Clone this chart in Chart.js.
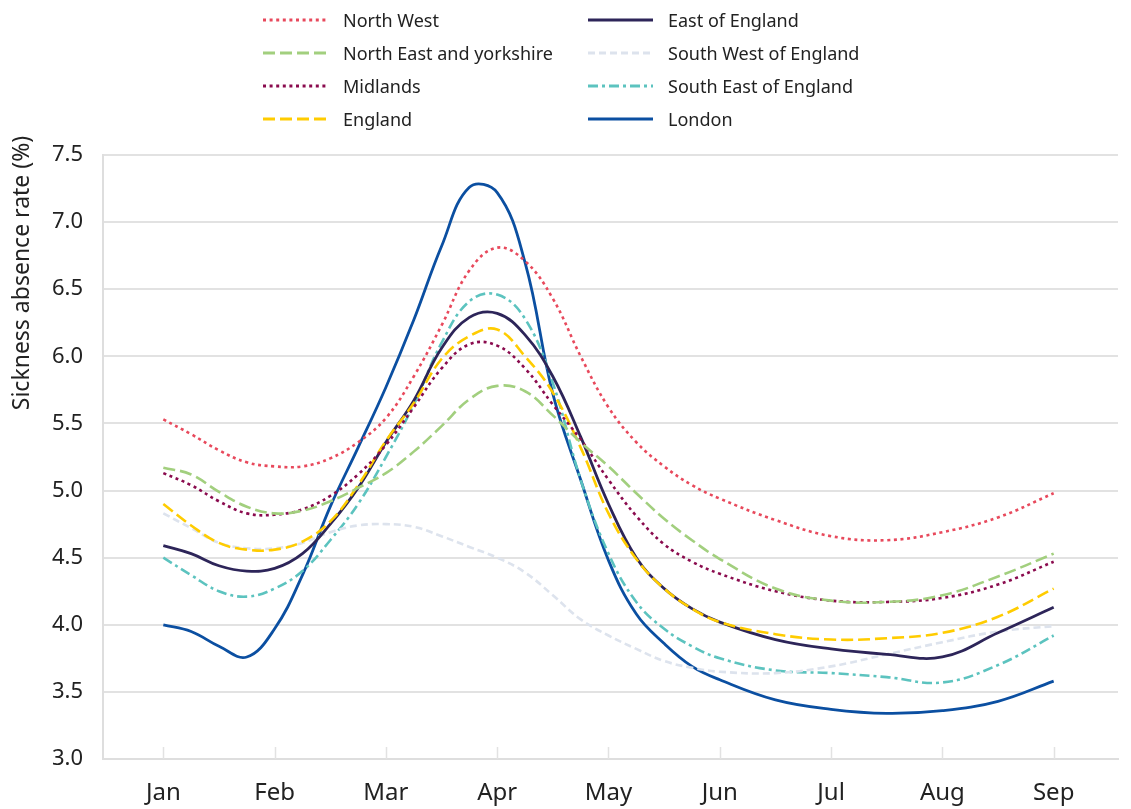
<!DOCTYPE html>
<html>
<head>
<meta charset="utf-8">
<title>Sickness absence rate by region</title>
<script src="https://cdn.jsdelivr.net/npm/chart.js@4.4.1/dist/chart.umd.min.js"></script>
<style>
  html, body { margin: 0; padding: 0; background: #fff; }
  body { width: 1131px; height: 809px; overflow: hidden; font-family: "Noto Sans", sans-serif; }
  #wrap { position: relative; width: 1131px; height: 809px; }
  #legend { position: absolute; left: 0; top: 0; width: 1131px; height: 140px; }
  .item { position: absolute; height: 30px; line-height: 30px; display: flex; align-items: center;
          font-size: 18px; color: #222; white-space: nowrap; }
  .item svg { margin-right: 15px; }
</style>
</head>
<body>
<div id="wrap">
  <canvas id="absenceChart" width="1131" height="809"></canvas>
  <div id="legend"></div>
</div>
<script>
const months = ['Jan', 'Feb', 'Mar', 'Apr', 'May', 'Jun', 'Jul', 'Aug', 'Sep'];
const yTicks = [3.0, 3.5, 4.0, 4.5, 5.0, 5.5, 6.0, 6.5, 7.0, 7.5];
const yTitle = 'Sickness absence rate (%)';

// sample positions, in months counted from the start of January
const samplePos = [0, 0.25, 0.5, 0.75, 1, 1.25, 1.5, 1.75, 2, 2.25, 2.5, 2.75, 3, 3.25, 3.5, 3.75, 4, 4.25, 4.5, 4.75, 5, 5.5, 6, 6.5, 7, 7.5, 8];

// sickness absence rate (%)
const northWest   = [5.53, 5.42, 5.30, 5.21, 5.18, 5.18, 5.24, 5.36, 5.54, 5.85, 6.23, 6.64, 6.81, 6.71, 6.43, 6.00, 5.62, 5.36, 5.18, 5.04, 4.94, 4.78, 4.66, 4.63, 4.69, 4.80, 4.98];
const northEast   = [5.17, 5.12, 4.99, 4.88, 4.83, 4.85, 4.92, 5.02, 5.13, 5.29, 5.48, 5.68, 5.78, 5.74, 5.56, 5.36, 5.18, 4.98, 4.79, 4.63, 4.49, 4.27, 4.18, 4.17, 4.22, 4.36, 4.53];
const midlands    = [5.13, 5.04, 4.92, 4.83, 4.82, 4.86, 4.96, 5.12, 5.34, 5.62, 5.91, 6.09, 6.08, 5.91, 5.64, 5.38, 5.08, 4.81, 4.60, 4.47, 4.38, 4.25, 4.18, 4.17, 4.20, 4.30, 4.47];
const england     = [4.90, 4.74, 4.61, 4.56, 4.56, 4.62, 4.77, 5.04, 5.37, 5.65, 5.98, 6.15, 6.20, 6.00, 5.73, 5.32, 4.83, 4.49, 4.27, 4.12, 4.02, 3.93, 3.89, 3.90, 3.94, 4.06, 4.27];
const eastEngland = [4.59, 4.53, 4.44, 4.40, 4.42, 4.53, 4.75, 5.02, 5.36, 5.67, 6.06, 6.29, 6.32, 6.16, 5.85, 5.40, 4.90, 4.50, 4.27, 4.12, 4.02, 3.89, 3.82, 3.78, 3.76, 3.94, 4.13];
const southWest   = [4.83, 4.72, 4.61, 4.57, 4.57, 4.61, 4.69, 4.74, 4.75, 4.73, 4.66, 4.58, 4.50, 4.39, 4.22, 4.04, 3.92, 3.82, 3.73, 3.68, 3.65, 3.64, 3.69, 3.78, 3.87, 3.95, 3.99];
const southEast   = [4.50, 4.37, 4.25, 4.21, 4.27, 4.40, 4.63, 4.90, 5.25, 5.64, 6.10, 6.41, 6.46, 6.28, 5.80, 5.08, 4.53, 4.17, 3.97, 3.84, 3.75, 3.66, 3.64, 3.61, 3.57, 3.70, 3.92];
const london      = [4.00, 3.95, 3.84, 3.76, 3.97, 4.37, 4.88, 5.32, 5.77, 6.27, 6.82, 7.26, 7.22, 6.70, 5.72, 5.08, 4.48, 4.08, 3.86, 3.69, 3.59, 3.44, 3.37, 3.34, 3.36, 3.43, 3.58];

const series = [
  { label: 'North West',               data: northWest,   color: '#e8495c', dash: [3, 3.6],       width: 2.6 },
  { label: 'North East and yorkshire', data: northEast,   color: '#a2cf7e', dash: [12, 5],        width: 2.6 },
  { label: 'Midlands',                 data: midlands,    color: '#8a0b4e', dash: [3, 3.6],       width: 2.6 },
  { label: 'England',                  data: england,     color: '#ffcc00', dash: [12, 5],        width: 2.6 },
  { label: 'East of England',          data: eastEngland, color: '#2d2559', dash: [],             width: 2.8 },
  { label: 'South West of England',    data: southWest,   color: '#dde3ed', dash: [7, 4],         width: 2.6 },
  { label: 'South East of England',    data: southEast,   color: '#5cc3bf', dash: [10, 4, 3, 4],  width: 2.6 },
  { label: 'London',                   data: london,      color: '#0b4fa1', dash: [],             width: 2.8 }
];

// legend: two columns, four rows, filled column by column
function buildLegend() {
  const box = document.getElementById('legend');
  series.forEach((s, i) => {
    const col = Math.floor(i / 4);
    const row = i % 4;
    const item = document.createElement('div');
    item.className = 'item';
    item.style.left = (col === 0 ? 263 : 588) + 'px';
    item.style.top = (20 + row * 33 - 15) + 'px';
    const svg = `<svg width="65" height="10"><line x1="0" y1="5" x2="65" y2="5" stroke="${s.color}" stroke-width="3" stroke-dasharray="${s.dash.join(' ')}"/></svg>`;
    item.innerHTML = svg + `<span>${s.label}</span>`;
    box.appendChild(item);
  });
}

// short inward tick marks on the month axis, plus the rotated y title near the top
const axisExtras = {
  id: 'axisExtras',
  beforeDatasetsDraw(chart) {
    const { ctx, chartArea, scales } = chart;
    ctx.save();
    ctx.strokeStyle = '#e2e2e2';
    ctx.lineWidth = 1.5;
    months.forEach((m, i) => {
      const x = Math.round(scales.x.getPixelForValue(i)) + 0.5;
      ctx.beginPath();
      ctx.moveTo(x, chartArea.bottom);
      ctx.lineTo(x, chartArea.bottom - 12);
      ctx.stroke();
    });
    ctx.restore();
  },
  afterDraw(chart) {
    const ctx = chart.ctx;
    ctx.save();
    ctx.translate(22, 273);
    ctx.rotate(-Math.PI / 2);
    ctx.font = '23px "Noto Sans"';
    ctx.fillStyle = '#222';
    ctx.textAlign = 'center';
    ctx.textBaseline = 'middle';
    ctx.fillText(yTitle, 0, 0);
    ctx.restore();
  }
};

function renderChart() {
  const canvas = document.getElementById('absenceChart');
  const ctx = canvas.getContext('2d');

  const datasets = series.map(s => ({
    label: s.label,
    data: samplePos.map((x, i) => ({ x: x, y: s.data[i] })),
    borderColor: s.color,
    backgroundColor: s.color,
    borderWidth: s.width,
    borderDash: s.dash,
    borderCapStyle: 'butt',
    pointRadius: 0,
    tension: 0.4,
    fill: false
  }));

  new Chart(ctx, {
    type: 'line',
    data: { datasets: datasets },
    options: {
      responsive: false,
      animation: false,
      layout: { padding: { top: 155, right: 13, left: 0, bottom: 0 } },
      plugins: {
        legend: { display: false },
        tooltip: { enabled: false }
      },
      scales: {
        x: {
          type: 'linear',
          min: -0.542,
          max: 8.578,
          afterBuildTicks: scale => { scale.ticks = months.map((m, i) => ({ value: i })); },
          afterFit: scale => { scale.height = 50; },
          ticks: {
            callback: v => months[v],
            autoSkip: false,
            maxRotation: 0,
            padding: 20,
            color: '#222',
            font: { family: 'Noto Sans', size: 24 }
          },
          grid: { drawOnChartArea: false, drawTicks: false },
          border: { display: true, color: '#dedede', width: 2 }
        },
        y: {
          min: 3,
          max: 7.5,
          afterBuildTicks: scale => { scale.ticks = yTicks.map(v => ({ value: v })); },
          afterFit: scale => { scale.width = 103; },
          ticks: {
            callback: v => v.toFixed(1),
            padding: 20,
            color: '#222',
            font: { family: 'Noto Sans', size: 22 }
          },
          grid: { color: '#e2e2e2', lineWidth: 2, drawTicks: false },
          border: { display: true, color: '#dedede', width: 2 }
        }
      }
    },
    plugins: [axisExtras]
  });
}

buildLegend();
renderChart();
</script>
</body>
</html>
